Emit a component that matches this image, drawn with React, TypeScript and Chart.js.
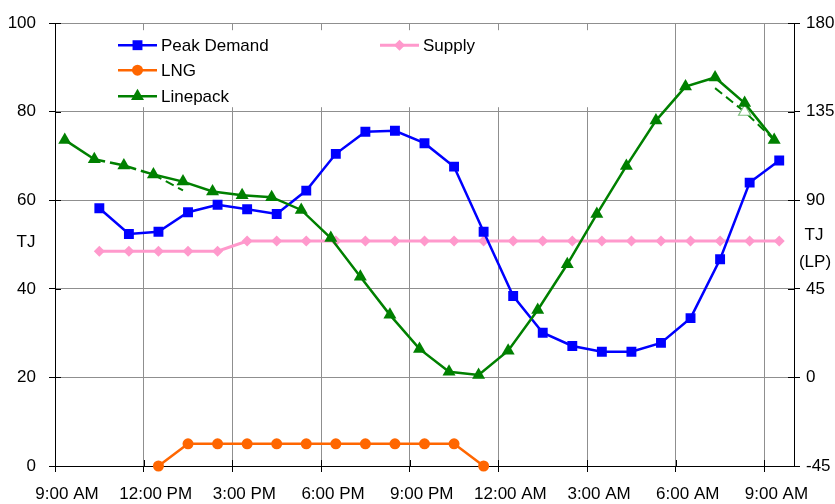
import React, { useEffect, useRef } from 'react';
import { Chart, registerables } from 'chart.js';

Chart.register(...registerables);

// ---- Data (hours after 9:00 AM) ----
const xTickHours = [0, 3, 6, 9, 12, 15, 18, 21, 24];
const xTickLabels = ['9:00 AM', '12:00 PM', '3:00 PM', '6:00 PM', '9:00 PM', '12:00 AM', '3:00 AM', '6:00 AM', '9:00 AM'];

const demandHours = [1.5, 2.5, 3.5, 4.5, 5.5, 6.5, 7.5, 8.5, 9.5, 10.5, 11.5, 12.5, 13.5, 14.5, 15.5, 16.5, 17.5, 18.5, 19.5, 20.5, 21.5, 22.5, 23.5, 24.5];
const peakDemand = [58.2, 52.4, 52.9, 57.3, 59.0, 58.0, 56.9, 62.2, 70.5, 75.5, 75.7, 72.9, 67.6, 52.9, 38.4, 30.1, 27.1, 25.8, 25.8, 27.8, 33.4, 46.7, 64.0, 69.0];
const supply = [48.5, 48.5, 48.5, 48.5, 48.5, 50.8, 50.8, 50.8, 50.8, 50.8, 50.8, 50.8, 50.8, 50.8, 50.8, 50.8, 50.8, 50.8, 50.8, 50.8, 50.8, 50.8, 50.8, 50.8];

const lngHours = [3.5, 4.5, 5.5, 6.5, 7.5, 8.5, 9.5, 10.5, 11.5, 12.5, 13.5, 14.5];
const lng = [0, 5, 5, 5, 5, 5, 5, 5, 5, 5, 5, 0];

const linepackHours = [0.33, 1.33, 2.33, 3.33, 4.33, 5.33, 6.33, 7.33, 8.33, 9.33, 10.33, 11.33, 12.33, 13.33, 14.33, 15.33, 16.33, 17.33, 18.33, 19.33, 20.33, 21.33, 22.33, 23.33, 24.33];
const linepack = [120.7, 110.9, 107.7, 103.1, 99.5, 94.5, 92.6, 91.6, 85.1, 70.8, 51.2, 31.8, 14.5, 2.9, 1.3, 13.6, 34.3, 57.5, 83.0, 107.5, 130.5, 147.8, 152.4, 139.4, 120.7];
const linepackForecast = [null, null, null, 103.1, 95.0, null, null, null, null, null, null, null, null, null, null, null, null, null, null, null, null, null, 147.0, 135.0, 120.7];

const leftTicks = [0, 20, 40, 60, 80, 100];
const rightTicks = [-45, 0, 45, 90, 135, 180];

const FONT = "'Liberation Sans', Arial, sans-serif";

const BLUE = '#0000FF';
const ORANGE = '#FF6600';
const GREEN = '#008000';
const PINK = '#FF99CC';

const R_RECT = 7;
const R_CIRCLE = 5.5;
const R_TRI = 7.5;
const R_DIAMOND = 5.5;

function pts(xs: number[], ys: (number | null)[]) {
  return xs.map((x, i) => ({ x, y: ys[i] }));
}

function drawMarker(ctx: CanvasRenderingContext2D, style: string, x: number, y: number, r: number, color: string) {
  ctx.save();
  ctx.fillStyle = color;
  ctx.beginPath();
  if (style === 'rect') {
    const s = r * Math.SQRT1_2;
    ctx.rect(x - s, y - s, 2 * s, 2 * s);
  } else if (style === 'circle') {
    ctx.arc(x, y, r, 0, Math.PI * 2);
  } else if (style === 'triangle') {
    for (let k = 0; k < 3; k++) {
      const a = (k * 2 * Math.PI) / 3;
      const px = x + Math.sin(a) * r;
      const py = y - Math.cos(a) * r;
      if (k === 0) ctx.moveTo(px, py); else ctx.lineTo(px, py);
    }
    ctx.closePath();
  } else if (style === 'rectRot') {
    ctx.moveTo(x - r, y);
    ctx.lineTo(x, y - r);
    ctx.lineTo(x + r, y);
    ctx.lineTo(x, y + r);
    ctx.closePath();
  }
  ctx.fill();
  ctx.restore();
}

const legendItems = [
  { label: 'Peak Demand', color: BLUE, style: 'rect', r: R_RECT, lw: 2.5, col: 0, row: 0 },
  { label: 'LNG', color: ORANGE, style: 'circle', r: R_CIRCLE, lw: 2.5, col: 0, row: 1 },
  { label: 'Linepack', color: GREEN, style: 'triangle', r: R_TRI, lw: 2.5, col: 0, row: 2 },
  { label: 'Supply', color: PINK, style: 'rectRot', r: R_DIAMOND, lw: 3, col: 1, row: 0 },
];

const decorPlugin = {
  id: 'decor',
  beforeDatasetsDraw(chart: any) {
    const ctx = chart.ctx as CanvasRenderingContext2D;
    const area = chart.chartArea;
    ctx.save();
    ctx.fillStyle = '#ffffff';
    ctx.fillRect(area.left + 45, area.top + 7, 530, 77);
    const colX = [area.left + 63, area.left + 325];
    const rowY = [area.top + 22, area.top + 47, area.top + 73];
    ctx.font = `17px ${FONT}`;
    ctx.textBaseline = 'middle';
    ctx.textAlign = 'left';
    legendItems.forEach((it) => {
      const x0 = colX[it.col];
      const y0 = rowY[it.row];
      ctx.strokeStyle = it.color;
      ctx.lineWidth = it.lw;
      ctx.beginPath();
      ctx.moveTo(x0, y0);
      ctx.lineTo(x0 + 39, y0);
      ctx.stroke();
      drawMarker(ctx, it.style, x0 + 19.5, y0, it.r, it.color);
      ctx.fillStyle = '#000';
      ctx.fillText(it.label, x0 + 43, y0 + 1);
    });
    ctx.restore();
  },
  afterDraw(chart: any) {
    const ctx = chart.ctx as CanvasRenderingContext2D;
    const area = chart.chartArea;
    const xs = chart.scales.x;
    const ys = chart.scales.y;
    const y1 = chart.scales.y1;
    ctx.save();
    ctx.strokeStyle = '#000';
    ctx.lineWidth = 1;
    ctx.beginPath();
    leftTicks.forEach((v) => {
      const p = Math.round(ys.getPixelForValue(v)) + 0.5;
      ctx.moveTo(area.left, p);
      ctx.lineTo(area.left + 6, p);
    });
    rightTicks.forEach((v) => {
      const p = Math.round(y1.getPixelForValue(v)) + 0.5;
      ctx.moveTo(area.right - 6, p);
      ctx.lineTo(area.right, p);
    });
    xTickHours.forEach((v) => {
      const p = Math.round(xs.getPixelForValue(v)) + 0.5;
      ctx.moveTo(p, area.bottom - 6);
      ctx.lineTo(p, area.bottom);
    });
    ctx.stroke();
    ctx.fillStyle = '#000';
    ctx.font = `17px ${FONT}`;
    ctx.textAlign = 'center';
    ctx.textBaseline = 'middle';
    ctx.fillText('TJ', 26, 242);
    ctx.fillText('TJ', 814, 235);
    ctx.fillText('(LP)', 815, 262);
    ctx.restore();
  },
};

export default function App() {
  const ref = useRef<HTMLCanvasElement | null>(null);

  useEffect(() => {
    if (!ref.current) return;
    Chart.defaults.font.family = FONT;
    const chart = new Chart(ref.current, {
      type: 'line',
      data: {
        datasets: [
          {
            label: 'Linepack',
            data: pts(linepackHours, linepack),
            yAxisID: 'y1',
            borderColor: GREEN,
            backgroundColor: GREEN,
            borderWidth: 2.5,
            pointStyle: 'triangle',
            pointRadius: R_TRI,
            pointBorderWidth: 0,
            pointBackgroundColor: GREEN,
            tension: 0,
            order: 0,
            segment: {
              borderDash: (c: any) => (c.p0DataIndex === 1 || c.p0DataIndex === 2 ? [11, 5] : undefined),
            },
          },
          {
            label: 'Peak Demand',
            data: pts(demandHours, peakDemand),
            yAxisID: 'y',
            borderColor: BLUE,
            backgroundColor: BLUE,
            borderWidth: 2.5,
            pointStyle: 'rect',
            pointRadius: R_RECT,
            pointBorderWidth: 0,
            pointBackgroundColor: BLUE,
            tension: 0,
            order: 1,
          },
          {
            label: 'LNG',
            data: pts(lngHours, lng),
            yAxisID: 'y',
            borderColor: ORANGE,
            backgroundColor: ORANGE,
            borderWidth: 2.5,
            pointStyle: 'circle',
            pointRadius: R_CIRCLE,
            pointBorderWidth: 0,
            pointBackgroundColor: ORANGE,
            tension: 0,
            order: 2,
            clip: false as any,
          },
          {
            label: 'Supply',
            data: pts(demandHours, supply),
            yAxisID: 'y',
            borderColor: PINK,
            backgroundColor: PINK,
            borderWidth: 3,
            pointStyle: 'rectRot',
            pointRadius: R_DIAMOND,
            pointBorderWidth: 0,
            pointBackgroundColor: PINK,
            tension: 0,
            order: 3,
          },
          {
            label: 'Linepack forecast',
            data: pts(linepackHours, linepackForecast),
            yAxisID: 'y1',
            borderColor: GREEN,
            borderWidth: 2,
            borderDash: [9, 5],
            pointStyle: 'triangle',
            pointRadius: linepackForecast.map((_, i) => (i === 23 ? 7 : 0)),
            pointBorderWidth: 1.2,
            pointBorderColor: '#7fbf7f',
            pointBackgroundColor: '#ffffff',
            tension: 0,
            spanGaps: false,
            order: 4,
          },
        ] as any,
      },
      options: {
        responsive: false,
        animation: false,
        events: [],
        layout: { padding: { top: 23, left: 0, right: 0, bottom: 0 } },
        plugins: {
          legend: { display: false },
          tooltip: { enabled: false },
          title: { display: false },
        },
        scales: {
          x: {
            type: 'linear',
            min: 0,
            max: 25,
            afterBuildTicks: (s: any) => {
              s.ticks = xTickHours.map((v) => ({ value: v }));
            },
            afterFit: (s: any) => {
              s.height = 38;
            },
            ticks: {
              autoSkip: false,
              maxRotation: 0,
              minRotation: 0,
              padding: 12,
              labelOffset: 12,
              color: '#000',
              font: { size: 17, family: FONT },
              callback: (v: any) => {
                const i = xTickHours.indexOf(Number(v));
                return i >= 0 ? xTickLabels[i] : '';
              },
            },
            grid: { color: '#8f8f8f', lineWidth: 1, tickLength: 6, tickColor: '#000' },
            border: { color: '#000', width: 1 },
          },
          y: {
            type: 'linear',
            position: 'left',
            min: 0,
            max: 100,
            afterBuildTicks: (s: any) => {
              s.ticks = leftTicks.map((v) => ({ value: v }));
            },
            afterFit: (s: any) => {
              s.width = 55;
            },
            ticks: { padding: 13, color: '#000', font: { size: 17, family: FONT } },
            grid: { color: '#8f8f8f', lineWidth: 1, tickLength: 6, tickColor: '#000' },
            border: { color: '#000', width: 1 },
          },
          y1: {
            type: 'linear',
            position: 'right',
            min: -45,
            max: 180,
            afterBuildTicks: (s: any) => {
              s.ticks = rightTicks.map((v) => ({ value: v }));
            },
            afterFit: (s: any) => {
              s.width = 41;
            },
            ticks: { padding: 6, color: '#000', font: { size: 17, family: FONT } },
            grid: { drawOnChartArea: false, tickLength: 6, tickColor: '#000' },
            border: { color: '#000', width: 1 },
          },
        },
      } as any,
      plugins: [decorPlugin],
    });
    return () => chart.destroy();
  }, []);

  return (
    <div style={{ position: 'absolute', left: 0, top: 0, width: 835, height: 504, background: '#fff' }}>
      <canvas ref={ref} width={835} height={504} />
    </div>
  );
}
